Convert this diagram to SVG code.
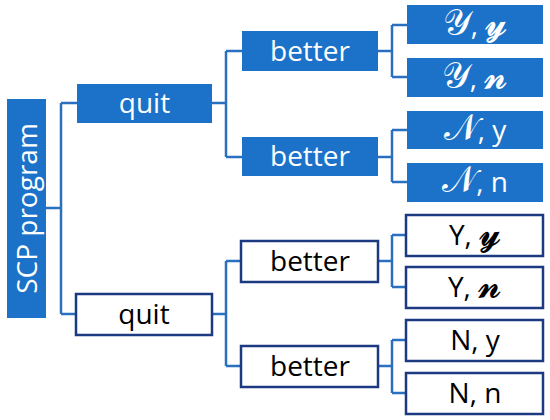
<svg xmlns="http://www.w3.org/2000/svg" width="550" height="420" viewBox="0 0 550 420">
<style>
.fill{fill:#1b72c8}
.out{fill:#ffffff;stroke:#1c3a82;stroke-width:2.5}
.t{font-family:"Open Sans","Noto Sans",sans-serif;font-size:28px;text-anchor:middle}
.w{fill:#ffffff}
.k{fill:#000000}
.m{font-family:"DejaVu Serif","Noto Sans",serif;font-size:36px}
.c{fill:none;stroke:#2a6fc0;stroke-width:2.5}
</style>
<rect width="550" height="420" fill="#ffffff"/>
<g id="connectors" class="c">
<path d="M46,208H61M61,103V314M61,103H77M61,314H76"/>
<path d="M212,103H226M226,51V157M226,51H242M226,157H242"/>
<path d="M378,51H392M392,25V77M392,25H407M392,77H407"/>
<path d="M378,157H392M392,130V182M392,130H407M392,182H407"/>
<path d="M213,314H226M226,261V366M226,261H241M226,366H241"/>
<path d="M379,261H392M392,235V287M392,235H406M392,287H406"/>
<path d="M379,366H392M392,340V393M392,340H406M392,393H406"/>
</g>
<g id="scp"><rect class="fill" x="7" y="99" width="39" height="219"/><text class="t w" transform="translate(37,208.5) rotate(-90)">SCP program</text></g>
<g id="quit1"><rect class="fill" x="77" y="84" width="135" height="39"/><text class="t w" x="144.5" y="113">quit</text></g>
<g id="better1"><rect class="fill" x="242" y="31" width="136" height="40"/><text class="t w" x="310" y="61">better</text></g>
<g id="better2"><rect class="fill" x="242" y="137" width="136" height="39"/><text class="t w" x="310" y="166">better</text></g>
<g id="leaf1"><rect class="fill" x="407" y="5" width="136" height="39"/><text class="t w" x="475" y="35"><tspan class="m">𝒴</tspan>, <tspan class="m">𝔂</tspan></text></g>
<g id="leaf2"><rect class="fill" x="407" y="58" width="136" height="39"/><text class="t w" x="475" y="88"><tspan class="m">𝒴</tspan>, <tspan class="m">𝓷</tspan></text></g>
<g id="leaf3"><rect class="fill" x="407" y="111" width="136" height="38"/><text class="t w" x="475" y="140"><tspan class="m">𝒩</tspan>, y</text></g>
<g id="leaf4"><rect class="fill" x="407" y="163" width="136" height="39"/><text class="t w" x="475" y="192"><tspan class="m">𝒩</tspan>, n</text></g>
<g id="quit2"><rect class="out" x="76" y="294" width="136" height="41"/><text class="t k" x="144" y="324">quit</text></g>
<g id="better3"><rect class="out" x="241" y="241" width="137" height="41"/><text class="t k" x="310" y="271">better</text></g>
<g id="better4"><rect class="out" x="241" y="346" width="137" height="41"/><text class="t k" x="310" y="376">better</text></g>
<g id="leaf5"><rect class="out" x="406" y="215" width="137" height="41"/><text class="t k" x="475" y="245">Y, <tspan class="m">𝔂</tspan></text></g>
<g id="leaf6"><rect class="out" x="406" y="267" width="137" height="41"/><text class="t k" x="475" y="297">Y, <tspan class="m">𝓷</tspan></text></g>
<g id="leaf7"><rect class="out" x="406" y="320" width="137" height="41"/><text class="t k" x="475" y="350">N, y</text></g>
<g id="leaf8"><rect class="out" x="406" y="373" width="137" height="41"/><text class="t k" x="475" y="403">N, n</text></g>
</svg>
